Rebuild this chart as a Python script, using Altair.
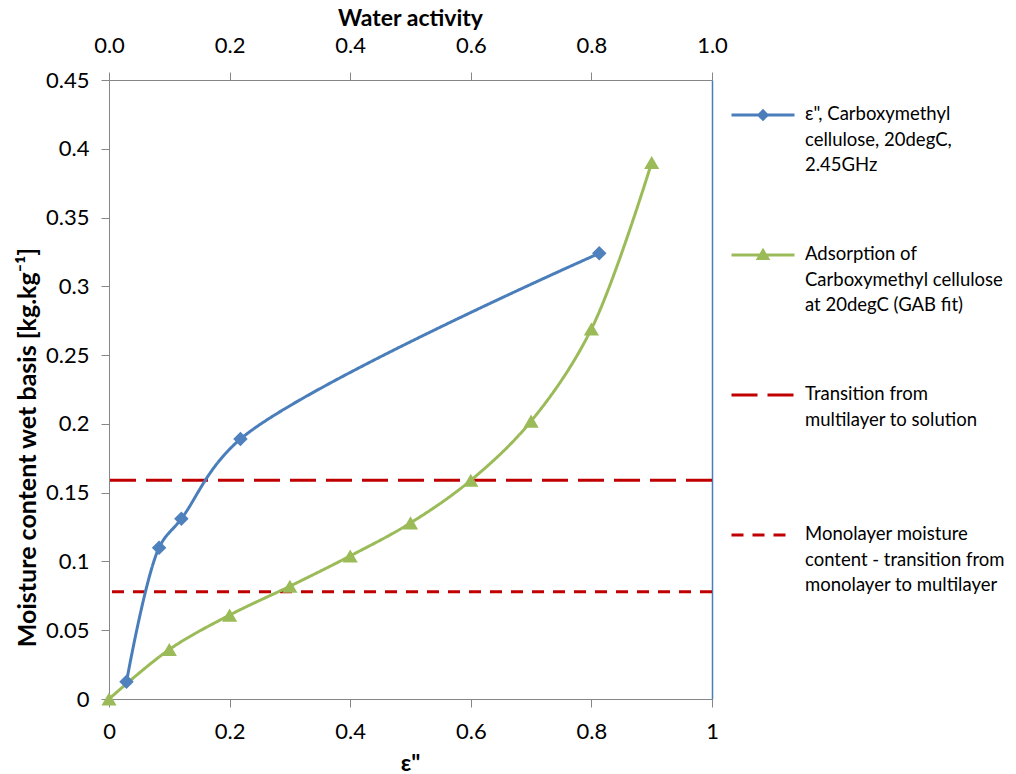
import altair as alt
import pandas as pd

# --- values -------------------------------------------------------------
series_names = [
    'ε", Carboxymethyl\ncellulose, 20degC,\n2.45GHz',
    "Adsorption of\nCarboxymethyl cellulose\nat 20degC (GAB fit)",
    "Transition from\nmultilayer to solution",
    "Monolayer moisture\ncontent - transition from\nmonolayer to multilayer",
]

# dielectric loss factor vs. moisture content (bottom axis)
eps_x = [0.029, 0.083, 0.120, 0.218, 0.813]
eps_y = [0.0125, 0.110, 0.131, 0.189, 0.324]

# GAB adsorption isotherm, water activity vs. moisture content (top axis)
aw_x = [0.0, 0.1, 0.2, 0.3, 0.4, 0.5, 0.6, 0.7, 0.8, 0.9]
aw_y = [0.0, 0.036, 0.061, 0.082, 0.104, 0.128, 0.159, 0.202, 0.269, 0.390]

# transition moisture levels
level_y = [0.159, 0.078]

x_ticks = [0, 0.2, 0.4, 0.6, 0.8, 1]
y_ticks = [0, 0.05, 0.1, 0.15, 0.2, 0.25, 0.3, 0.35, 0.4, 0.45]

# --- styling ------------------------------------------------------------
BLUE = "#4A7EBB"
BLUE_MK = "#4F81BD"
GREEN = "#9BBB59"
RED = "#C00000"
GRAY = "#868686"
FONT = "Lato"

eps_df = pd.DataFrame({"x": eps_x, "y": eps_y, "series": series_names[0]})
aw_df = pd.DataFrame({"x": aw_x, "y": aw_y, "series": series_names[1]})
lvl_df = pd.DataFrame({"y": level_y, "series": series_names[2:]})
# one row per series with no position: feeds the legend only
key_df = pd.DataFrame({"series": series_names, "x": [None] * 4, "y": [None] * 4})

xscale = alt.Scale(domain=[0, 1], nice=False, zero=False)
yscale = alt.Scale(domain=[0, 0.45], nice=False)

# legend glyphs (unit box): line with the series marker, or a plain line
SY = 0.32  # glyph shifted down onto the first label line
legend_paths = [
    f"M-1,{SY}L1,{SY}"
    f"M-0.13,{SY}L0,{SY-0.13}L0.13,{SY}L0,{SY+0.13}Z"
    f"M-0.05,{SY}L0,{SY-0.05}L0.05,{SY}L0,{SY+0.05}Z",
    f"M-1,{SY}L1,{SY}"
    f"M-0.15,{SY+0.11}L0,{SY-0.14}L0.15,{SY+0.11}Z"
    f"M-0.06,{SY+0.06}L0,{SY-0.04}L0.06,{SY+0.06}Z",
    f"M-1,{SY}L1,{SY}",
    f"M-1,{SY}L1,{SY}",
]

legend = alt.Legend(
    title=None,
    orient="none",
    legendX=621,
    legendY=-8,
    padding=0,
    labelExpr="split(datum.label, '\\n')",
    labelFont=FONT,
    labelFontSize=18.5,
    labelColor="#000000",
    labelLimit=400,
    labelOffset=9,
    labelBaseline="top",
    symbolSize=3969,
    symbolStrokeWidth=3,
    symbolOpacity=1,
    rowPadding=37,
    gridAlign="all",
)

color_scale = alt.Scale(domain=series_names, range=[BLUE, GREEN, RED, RED])
dash_scale = alt.Scale(domain=series_names, range=[[1, 0], [1, 0], [26, 10], [12, 9]])
shape_scale = alt.Scale(domain=series_names, range=legend_paths)

color_enc = alt.Color("series:N", scale=color_scale, legend=legend)
dash_enc = alt.StrokeDash("series:N", scale=dash_scale, legend=legend)

common_axis = dict(
    grid=False,
    domainColor=GRAY,
    tickColor=GRAY,
    labelColor="#000000",
    labelFont=FONT,
    labelFontSize=22,
    labelFlush=False,
    titleFont=FONT,
    titleFontSize=23,
    titleFontWeight="bold",
    titleColor="#000000",
    titleBaseline="middle",
    tickSize=8,
)

x_bottom = alt.X(
    "x:Q",
    scale=xscale,
    axis=alt.Axis(orient="bottom", values=x_ticks, format="~g", title='ε"',
                  labelPadding=14, titleX=301, titleY=64, **common_axis),
)
x_top = alt.X(
    "x:Q",
    scale=xscale,
    axis=alt.Axis(orient="top", values=x_ticks, format=".1f", title="Water activity",
                  labelPadding=15, titleX=301, titleY=-62, **common_axis),
)
y_axis_style = dict(common_axis, titleFontSize=25)
y_left = alt.Y(
    "y:Q",
    scale=yscale,
    axis=alt.Axis(orient="left", values=y_ticks, format="~g",
                  title="Moisture content wet basis [kg.kg⁻¹]",
                  labelPadding=12, titleX=-82, titleY=367, **y_axis_style),
)
y_right = alt.Y(
    "y:Q",
    scale=yscale,
    axis=alt.Axis(orient="right", labels=False, ticks=False, grid=False,
                  domainColor=BLUE, domainWidth=1.5, title=None),
)
x_none = alt.X("x:Q", scale=xscale, axis=None)
y_none = alt.Y("y:Q", scale=yscale, axis=None)

key = alt.Chart(key_df).mark_point(filled=False, strokeWidth=3, size=3969).encode(
    x=x_none,
    y=y_none,
    color=color_enc,
    strokeDash=dash_enc,
    shape=alt.Shape("series:N", scale=shape_scale, legend=legend),
)

levels = alt.Chart(lvl_df).mark_rule(strokeWidth=3).encode(
    y=y_none, color=color_enc, strokeDash=dash_enc
)

eps_line = alt.Chart(eps_df).mark_line(interpolate="catmull-rom", strokeWidth=3).encode(
    x=x_bottom, y=y_left, color=color_enc, strokeDash=dash_enc
)
aw_line = alt.Chart(aw_df).mark_line(interpolate="catmull-rom", strokeWidth=3).encode(
    x=x_top, y=y_right, color=color_enc, strokeDash=dash_enc
)

eps_pts = alt.Chart(eps_df).mark_point(shape="diamond", filled=True, size=210, opacity=1).encode(
    x=x_none, y=y_none, color=alt.value(BLUE_MK)
)
aw_pts = alt.Chart(aw_df).mark_point(shape="triangle-up", filled=True, size=230, opacity=1).encode(
    x=x_none, y=y_none, color=alt.value(GREEN)
)

chart = (
    alt.layer(key, levels, eps_line, aw_line, eps_pts, aw_pts)
    .resolve_axis(x="independent", y="independent")
    .properties(
        width=603,
        height=619,
        autosize=alt.AutoSizeParams(type="none"),
        padding={"left": 109, "top": 80, "right": 304, "bottom": 75},
        background="white",
    )
    .configure_view(stroke=None)
    .configure(style={"guide-label": {"lineHeight": 25.5}})
)

chart.save("out.html", embed_options={"renderer": "svg", "actions": False})
